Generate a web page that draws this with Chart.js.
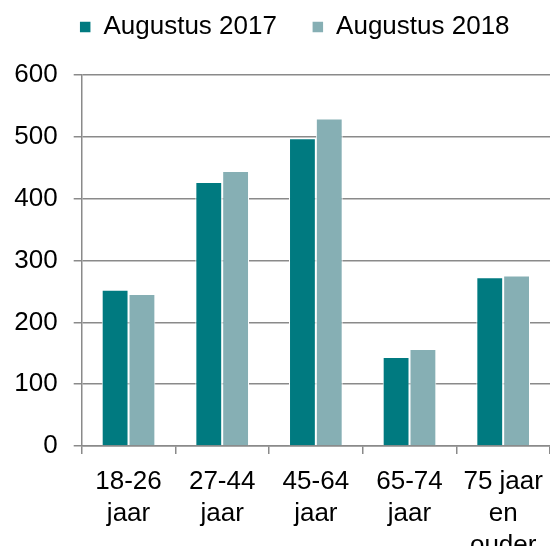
<!DOCTYPE html>
<html>
<head>
<meta charset="utf-8">
<script src="https://cdn.jsdelivr.net/npm/chart.js"></script>
<style>
  html, body { margin: 0; padding: 0; background: #fff; }
  #wrap { width: 550px; height: 546px; position: relative; }
</style>
</head>
<body>
<div id="wrap"><canvas id="grafiek"></canvas></div>
<script>
// leeftijdsgroepen en aantallen
const categorieen = [['18-26', 'jaar'], ['27-44', 'jaar'], ['45-64', 'jaar'], ['65-74', 'jaar'], ['75 jaar', 'en', 'ouder']];
const augustus2017 = [253, 427, 498, 144, 273];
const augustus2018 = [246, 445, 530, 157, 276];
const yTicks = [0, 100, 200, 300, 400, 500, 600];

const kleur2017 = '#007a80';
const kleur2018 = '#86afb4';
const lijnKleur = '#8a8a8a';
const lettertype = { family: '"Liberation Sans", Arial, sans-serif', size: 26, lineHeight: 1.23 };

// het plotgebied loopt in het origineel iets voorbij de rechterrand
const rechtsBuiten = -3.5;

// legenda iets naar rechts schuiven, zoals in het origineel
const legendaVerschuiving = {
    id: 'legendaVerschuiving',
    afterLayout(chart) {
        const d = 18;
        chart.legend.left += d;
        chart.legend.right += d;
    }
};

const ctx = document.getElementById('grafiek').getContext('2d');
new Chart(ctx, {
    type: 'bar',
    data: {
        labels: categorieen,
        datasets: [
            { label: 'Augustus 2017', data: augustus2017, backgroundColor: kleur2017, borderColor: '#ffffff', borderWidth: 1 },
            { label: 'Augustus 2018', data: augustus2018, backgroundColor: kleur2018, borderColor: '#ffffff', borderWidth: 1 }
        ]
    },
    plugins: [legendaVerschuiving],
    options: {
        responsive: true,
        maintainAspectRatio: false,
        animation: false,
        layout: { padding: { left: 0, right: rechtsBuiten, top: 0, bottom: 0 } },
        datasets: { bar: { categoryPercentage: 0.573, barPercentage: 1 } },
        plugins: {
            tooltip: { enabled: false },
            title: { display: true, text: '', weight: 500, padding: 0, font: { size: 21, lineHeight: 1.2 } },
            legend: {
                position: 'top',
                labels: {
                    color: '#000',
                    font: lettertype,
                    boxWidth: 10.5,
                    boxHeight: 10.5,
                    padding: 14,
                    generateLabels: (chart) => {
                        const items = Chart.defaults.plugins.legend.labels.generateLabels(chart);
                        items.forEach((it, i) => {
                            it.lineWidth = 0;
                            if (i === 0) it.text = it.text + '   ';
                        });
                        return items;
                    }
                }
            }
        },
        scales: {
            x: {
                offset: true,
                grid: { display: true, drawOnChartArea: false, offset: true, tickLength: 8, color: lijnKleur, lineWidth: 1.5 },
                border: { display: true, color: lijnKleur, width: 1.5 },
                ticks: { color: '#000', font: lettertype, autoSkip: false, maxRotation: 0, minRotation: 0, padding: 12 },
                afterFit: (scale) => { scale.height = 100; scale.paddingRight = rechtsBuiten; }
            },
            y: {
                min: 0,
                max: 600,
                afterBuildTicks: (scale) => { scale.ticks = yTicks.map(v => ({ value: v })); },
                grid: { color: lijnKleur, lineWidth: 1.5, tickLength: 8 },
                border: { display: true, color: lijnKleur, width: 1.5 },
                ticks: { color: '#000', font: lettertype, padding: 16 },
                afterFit: (scale) => { scale.width = 81.7; scale.paddingRight = rechtsBuiten; }
            }
        }
    }
});
</script>
</body>
</html>
